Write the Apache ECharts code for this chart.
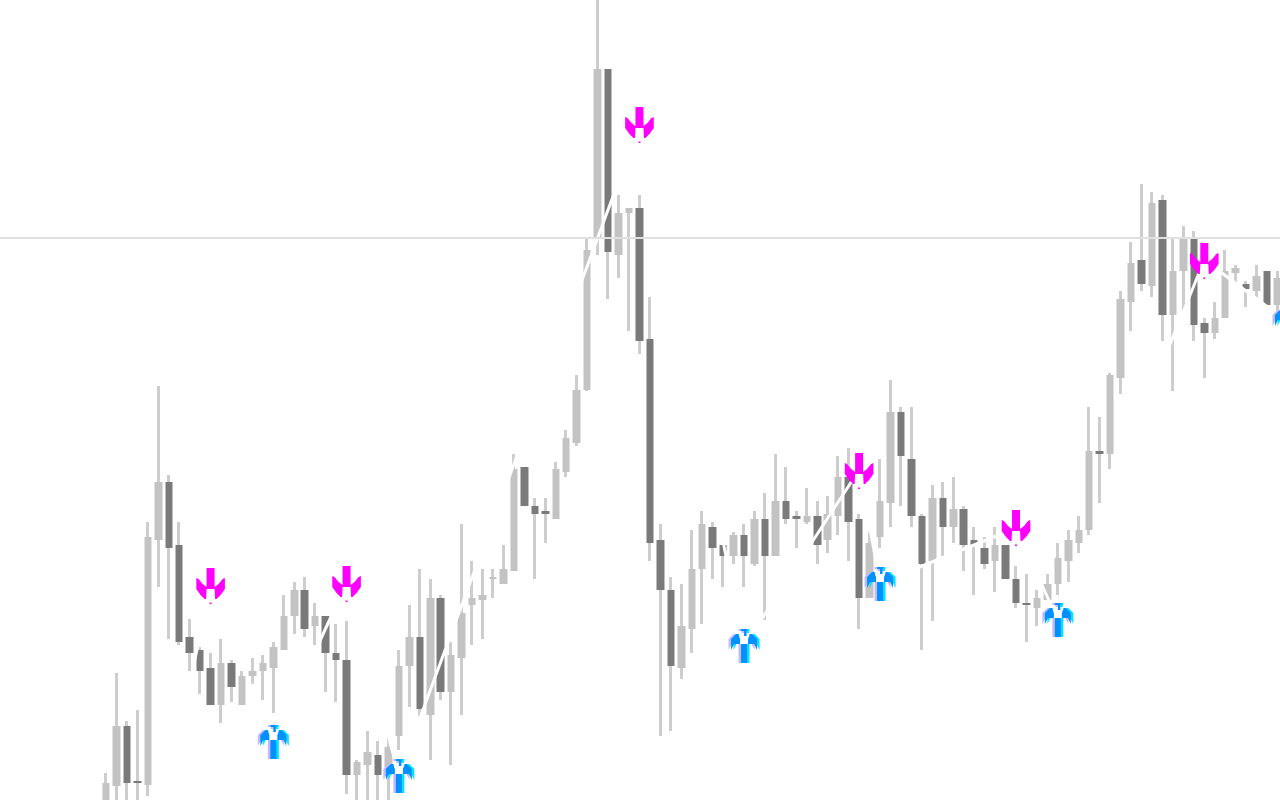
<!DOCTYPE html>
<html>
<head>
<meta charset="utf-8">
<style>html,body{margin:0;padding:0;background:#fff}#c{width:1280px;height:800px;overflow:hidden}</style>
<script src="https://cdn.jsdelivr.net/npm/echarts@6/dist/echarts.min.js"></script>
</head>
<body>
<div id="c"></div>
<script>
const opens = [-15,14,74,19,15,260,318,255,163,150,132,95,137,95,124,129,132,150,184,210,174,184,147,140,25,35,45,25,64,134,163,85,202,108,142,195,200,221,216,229,333,294,289,281,328,357,410,563,731,545,587,592,461,260,210,132,171,231,273,255,244,265,236,281,244,299,284,278,284,260,284,323,281,202,263,297,388,341,284,239,302,273,291,260,252,239,255,221,197,192,200,216,239,257,270,349,346,422,498,540,514,600,485,529,561,477,467,482,527,516,509,529,495];
const closes = [17,74,17,17,263,318,252,158,147,129,95,137,113,124,129,137,153,184,210,171,184,147,140,25,38,48,25,53,134,163,91,202,108,145,187,202,205,223,231,331,294,286,286,331,362,410,550,731,548,587,592,459,257,210,134,174,231,276,252,244,265,244,281,244,299,281,281,284,255,286,323,278,202,257,299,388,344,284,236,302,273,291,255,255,236,255,221,197,195,202,216,242,260,270,349,346,425,501,537,516,597,485,529,561,475,467,482,529,532,511,524,495,522];
const lows = [-30,-30,-20,-15,4,213,161,155,129,106,95,77,98,95,116,100,87,150,166,163,155,108,98,6,-15,-15,-15,-15,50,93,84,40,100,35,85,155,161,202,216,229,294,221,257,281,323,354,409,545,501,522,469,446,239,64,69,121,147,176,221,213,236,213,234,180,244,276,252,276,236,247,265,239,171,202,252,273,294,273,150,179,244,257,229,205,231,208,221,192,158,174,200,205,218,247,265,297,331,406,469,509,503,459,409,490,459,422,461,482,516,493,503,495,488];
const highs = [27,127,79,90,278,414,325,278,181,153,147,161,140,129,142,145,158,205,218,223,197,184,176,179,40,69,59,64,150,195,231,221,205,158,276,239,231,231,255,346,333,302,302,338,370,425,561,840,731,605,592,605,503,276,223,216,270,289,278,255,268,276,289,307,346,333,289,312,299,304,344,352,286,268,341,420,393,393,286,315,318,323,294,273,263,273,255,234,226,210,226,257,270,284,393,383,427,509,558,616,608,605,563,574,569,482,498,550,535,519,535,529,529];

const referenceLevel = 562;
const zigzagIndex = [6,10,16,23,28,51,61,72,74,87,91,105,113];
const zigzagValue = [17,215,58,217,25,675,154,330,217,272,180,540,478];
const sellIndex = [10,23,51,72,87,105];
const sellValue = [213,215,674,328,271,538];
const buyIndex = [16,28,61,74,91,113];
const buyValue = [58,24,154,216,180,478];

const LEAD = 10, TRAIL = 1;
const STEP = 10.46, FIRST_X = 106;
const total = LEAD + opens.length + TRAIL;
const categories = Array.from({length: total}, (_, i) => String(i - LEAD));
const pad = rows => [...Array(LEAD).fill(['-','-','-','-']), ...rows, ...Array(TRAIL).fill(['-','-','-','-'])];
const wickData = pad(opens.map((o, i) => {
  const mid = (o + closes[i]) / 2;
  return [mid, mid, lows[i], highs[i]];
}));
const bodyData = pad(opens.map((o, i) => [o, closes[i], Math.min(o, closes[i]), Math.max(o, closes[i])]));
const at = (idx, vals) => idx.map((k, i) => [k + LEAD, vals[i]]);

const corners = (w, h) => `M0 0L0.01 0L0 0.01ZM${w} ${h}L${w - 0.01} ${h}L${w} ${h - 0.01}Z`;
const sellW = 30, sellH = 38, buyW = 34, buyH = 40;
const sellMain = 'path://' + corners(sellW, sellH) +
  'M11 0L19 0L19 21L11 21Z' +
  'M0.7 10L3 11L7 16L11 19L11 21L10.5 31L9 31L5 27L0.7 21Z' +
  'M29.3 10L27 11L23 16L19 19L19 21L19.5 31L21 31L25 27L29.3 21Z' +
  'M14 34.5L16 34.5L16 36L14 36Z';
const sellWhite = 'path://' + corners(sellW, sellH) + 'M11 21L19 21L20 31L15 37L10 31Z';
const buyMain = 'path://' + corners(buyW, buyH) +
  'M14 3L20 3L20 5L19.5 5L19.5 10L17 10L17 5L14 5Z' +
  'M4 13L9 8L11 8L13 13L13 18L7 18L4 24Z' +
  'M30 13L25 8L23 8L21 13L21 18L27 18L30 24Z' +
  'M14 18L20 18L20 37L14 37Z';
const buyWhite = 'path://' + corners(buyW, buyH) + 'M12 7L22 7L22 18L20 18L20 20L14 20L14 18L12 18Z';

const arrow = (name, symbol, size, data, color, offset, z) => ({
  name, type: 'scatter', data, symbol, symbolSize: size, symbolOffset: [offset, 0],
  itemStyle: { color, opacity: 1 }, z, silent: true, clip: false
});

const chart = echarts.init(document.getElementById('c'), null, { renderer: 'canvas' });
chart.setOption({
  animation: false,
  backgroundColor: '#ffffff',
  grid: { left: FIRST_X - (LEAD + 0.5) * STEP, width: total * STEP, top: 0, bottom: 0, outerBoundsMode: 'none' },
  xAxis: { type: 'category', data: categories, show: false, boundaryGap: true },
  yAxis: { type: 'value', min: 0, max: 800, show: false, splitLine: { show: false } },
  series: [
    { name: 'level', type: 'line', data: [], z: 1, silent: true,
      markLine: { silent: true, symbol: 'none', label: { show: false },
        lineStyle: { color: '#e0e0e0', width: 2, type: 'solid' },
        data: [{ yAxis: referenceLevel }] } },
    { name: 'wicks', type: 'candlestick', data: wickData, barWidth: 1, z: 2, silent: true,
      itemStyle: { color: '#cdcdcd', color0: '#cdcdcd', borderColor: '#cdcdcd', borderColor0: '#cdcdcd', borderWidth: 3 } },
    { name: 'bodies', type: 'candlestick', data: bodyData, barWidth: 8, z: 3, silent: true,
      itemStyle: { color: '#c3c3c3', color0: '#7a7a7a', borderColor: '#c3c3c3', borderColor0: '#7a7a7a', borderWidth: 0 } },
    { name: 'zigzag', type: 'line', data: at(zigzagIndex, zigzagValue), z: 4, silent: true,
      symbol: 'none', lineStyle: { color: '#ffffff', width: 3 } },
    arrow('sellMask', sellWhite, [sellW, sellH], at(sellIndex, sellValue), '#ffffff', 0, 5),
    arrow('sell', sellMain, [sellW, sellH], at(sellIndex, sellValue), '#ff00ff', 0, 6),
    arrow('buyLeftEdge', buyMain, [buyW, buyH], at(buyIndex, buyValue), '#c4b8ff', -2.5, 5),
    arrow('buyRightEdge', buyMain, [buyW, buyH], at(buyIndex, buyValue), '#00e4ff', 2.5, 5),
    arrow('buyMask', buyWhite, [buyW, buyH], at(buyIndex, buyValue), '#ffffff', 0, 6),
    arrow('buy', buyMain, [buyW, buyH], at(buyIndex, buyValue), '#0090ff', 0, 7)
  ]
});
</script>
</body>
</html>
